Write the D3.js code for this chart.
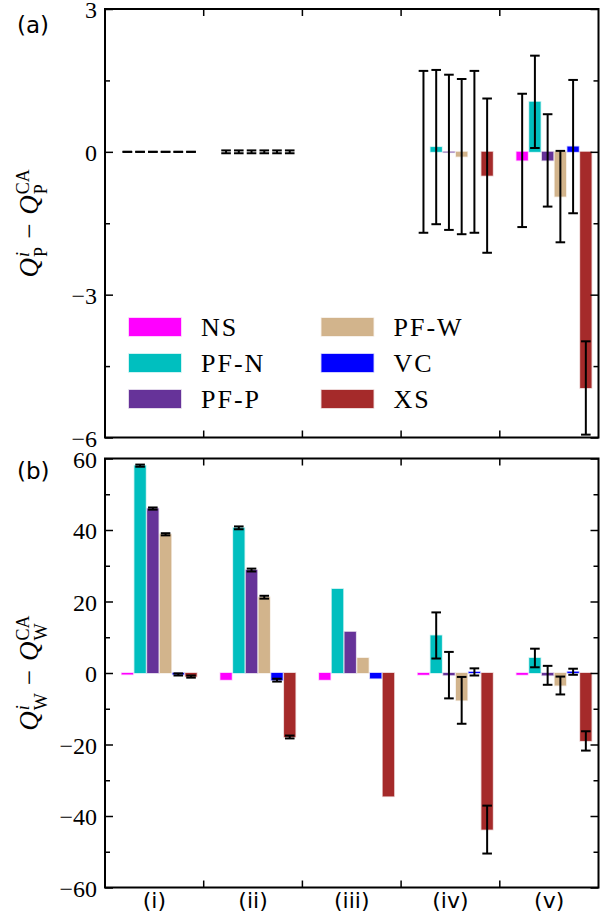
<!DOCTYPE html>
<html>
<head>
<meta charset="utf-8">
<script src="https://cdn.jsdelivr.net/npm/d3@7"></script>
<style>
  html, body { margin: 0; padding: 0; background: #fff; }
  svg { display: block; }
</style>
</head>
<body>
<svg id="chart" width="600" height="923"></svg>
<script>
// ---------------- DATA ----------------
const categories = ["(i)", "(ii)", "(iii)", "(iv)", "(v)"];
const series = ["NS", "PF-N", "PF-P", "PF-W", "VC", "XS"];
const seriesColors = ["#ff00ff", "#00bfbf", "#663399", "#d2b48c", "#0000ff", "#a52a2a"];

// Panel (a): rows = series, columns = categories
const qpValues = [
  [0, 0, 0, 0.00, -0.18],
  [0, 0, 0, 0.10, 1.05],
  [0, 0, 0, -0.01, -0.18],
  [0, 0, 0, -0.10, -0.94],
  [0, 0, 0, 0.00, 0.11],
  [0, 0, 0, -0.50, -4.96]
];
const qpErrors = [
  [0, 0.03, null, 1.70, 1.40],
  [0, 0.03, null, 1.62, 0.97],
  [0, 0.03, null, 1.63, 0.97],
  [0, 0.03, null, 1.63, 0.96],
  [0, 0.03, null, 1.70, 1.40],
  [0, 0.03, null, 1.62, 0.98]
];
const qpTicks = [3, 0, -3, -6];
const qpMinorTicks = [1.5, -1.5, -4.5];

// Panel (b)
const qwValues = [
  [-0.4, -1.9, -1.9, -0.5, -0.5],
  [58.0, 40.6, 23.5, 10.5, 4.2],
  [46.0, 28.8, 11.5, -0.6, -0.65],
  [38.8, 21.2, 4.2, -7.65, -3.5],
  [-0.4, -2.0, -1.5, 0.3, 0.35],
  [-1.0, -17.9, -34.5, -43.8, -19.0]
];
const qwErrors = [
  [null, null, null, null, null],
  [0.3, 0.4, null, 6.45, 2.6],
  [0.3, 0.4, null, 6.5, 2.65],
  [0.3, 0.4, null, 6.55, 2.5],
  [0.3, 0.4, null, 1.0, 0.85],
  [0.3, 0.4, null, 6.7, 2.7]
];
const qwTicks = [60, 40, 20, 0, -20, -40, -60];
const qwMinorTicks = [50, 30, 10, -10, -30, -50];

// ---------------- LAYOUT ----------------
const svg = d3.select("#chart");
const left = 105, right = 598.5;
const serifFont = "'Liberation Serif', 'Times New Roman', Times, serif";
const sansFont = "'DejaVu Sans', 'Noto Sans', sans-serif";

const x = d3.scaleBand().domain(categories).range([left, right]).padding(0);
const inner = d3.scaleBand().domain(series)
  .range([16.7, 91.7]).paddingInner(0.11).paddingOuter(0);

function drawPanel(cfg) {
  const { top, bottom, domain, values, errors, ticks, minor, tickFmt, panelLabel, labelBase, labelY } = cfg;
  const y = d3.scaleLinear().domain(domain).range([bottom, top]);
  const g = svg.append("g");

  // bars
  series.forEach((s, si) => {
    categories.forEach((c, ci) => {
      const v = values[si][ci];
      const x0 = x(c) + inner(s);
      const y0 = y(Math.max(0, v)), y1 = y(Math.min(0, v));
      g.append("rect")
        .attr("x", x0).attr("y", y0)
        .attr("width", inner.bandwidth())
        .attr("height", Math.max(0, y1 - y0))
        .attr("fill", seriesColors[si])
        .attr("stroke", seriesColors[si])
        .attr("stroke-opacity", 0.25)
        .attr("stroke-width", 1.5);
    });
  });

  // error bars
  series.forEach((s, si) => {
    categories.forEach((c, ci) => {
      const e = errors[si][ci];
      if (e === null || e === undefined) return;
      const v = values[si][ci];
      const cx = x(c) + inner(s) + inner.bandwidth() / 2;
      const yt = y(v + e), yb = y(v - e);
      const eg = g.append("g").attr("stroke", "#000").attr("stroke-width", 2).attr("fill", "none");
      eg.append("line").attr("x1", cx).attr("x2", cx).attr("y1", yt).attr("y2", yb);
      [yt, yb].forEach(yy => {
        eg.append("line").attr("x1", cx - 4.8).attr("x2", cx + 4.8).attr("y1", yy).attr("y2", yy);
      });
    });
  });

  // frame
  g.append("rect").attr("x", left).attr("y", top)
    .attr("width", right - left).attr("height", bottom - top)
    .attr("fill", "none").attr("stroke", "#000").attr("stroke-width", 2);

  // y axes (left with labels, right without)
  const yLeft = d3.axisLeft(y).tickValues(ticks).tickSize(-8).tickPadding(8).tickFormat(tickFmt);
  const ax = g.append("g").attr("transform", `translate(${left},0)`).call(yLeft);
  ax.attr("font-family", null).attr("font-size", null);
  ax.select(".domain").remove();
  ax.selectAll(".tick line").attr("stroke-width", 1.5);
  ax.selectAll(".tick text")
    .style("font-family", serifFont).style("font-size", "24px").attr("fill", "#000")
    .attr("dy", "0.36em");
  const axm = g.append("g").attr("transform", `translate(${left},0)`)
    .call(d3.axisLeft(y).tickValues(minor).tickSize(-5).tickFormat(""));
  axm.select(".domain").remove();
  axm.selectAll(".tick line").attr("stroke-width", 1.5);

  const axr = g.append("g").attr("transform", `translate(${right},0)`)
    .call(d3.axisRight(y).tickValues(ticks).tickSize(-8).tickFormat(""));
  axr.select(".domain").remove();
  axr.selectAll(".tick line").attr("stroke-width", 1.5);
  const axrm = g.append("g").attr("transform", `translate(${right},0)`)
    .call(d3.axisRight(y).tickValues(minor).tickSize(-5).tickFormat(""));
  axrm.select(".domain").remove();
  axrm.selectAll(".tick line").attr("stroke-width", 1.5);

  // category boundary ticks on top & bottom
  const bounds = categories.slice(1).map(c => x(c));
  bounds.forEach(bx => {
    g.append("line").attr("x1", bx).attr("x2", bx).attr("y1", top).attr("y2", top + 7)
      .attr("stroke", "#000").attr("stroke-width", 1.5);
    g.append("line").attr("x1", bx).attr("x2", bx).attr("y1", bottom).attr("y2", bottom - 7)
      .attr("stroke", "#000").attr("stroke-width", 1.5);
  });

  // panel label
  svg.append("text").attr("x", 17).attr("y", labelY)
    .style("font-family", sansFont).style("font-size", "23px").attr("fill", "#000")
    .text(panelLabel);

  // y-axis math label, rotated
  drawMathLabel(38, (top + bottom) / 2, labelBase);
  return y;
}

function drawMathLabel(bx, cy, sub) {
  const g = svg.append("g").attr("transform", `translate(${bx},${cy}) rotate(-90)`);
  const big = 27, small = 18;
  let cur = 0;
  function piece(txt, size, italic, dy) {
    const t = g.append("text").attr("x", cur).attr("y", dy)
      .style("font-family", serifFont).style("font-size", size + "px")
      .style("font-style", italic ? "italic" : "normal").attr("fill", "#000")
      .text(txt);
    return t;
  }
  function adv(t) { return t.node().getComputedTextLength(); }
  // Q^i_sub
  let t = piece("Q", big, true, 0); cur += adv(t) + 1;
  let a = piece("i", small, true, -9); let b = piece(sub, small, false, 9);
  cur += Math.max(adv(a), adv(b)) + 8;
  t = piece("\u2212", big, false, 0); cur += adv(t) + 9;
  t = piece("Q", big, true, 0); cur += adv(t) + 1;
  a = piece("CA", small, false, -9); b = piece(sub, small, false, 9);
  cur += Math.max(adv(a), adv(b));
  // center
  g.selectAll("text").each(function () {
    const s = d3.select(this);
    s.attr("x", +s.attr("x") - cur / 2);
  });
}

const fmtMinus = d => (d < 0 ? "\u2212" + Math.abs(d) : String(d));

drawPanel({
  top: 9, bottom: 437.5, domain: [-6, 3],
  values: qpValues, errors: qpErrors, ticks: qpTicks, minor: qpMinorTicks,
  tickFmt: fmtMinus, panelLabel: "(a)", labelBase: "P", labelY: 33
});

drawPanel({
  top: 458.5, bottom: 887.5, domain: [-60, 60],
  values: qwValues, errors: qwErrors, ticks: qwTicks, minor: qwMinorTicks,
  tickFmt: fmtMinus, panelLabel: "(b)", labelBase: "W", labelY: 479
});

// x category labels
svg.append("g").selectAll("text").data(categories).join("text")
  .attr("x", d => x(d) + x.bandwidth() / 2)
  .attr("y", 908)
  .attr("text-anchor", "middle")
  .style("font-family", sansFont).style("font-size", "22px").attr("fill", "#000")
  .text(d => d);

// legend
const lg = svg.append("g");
series.forEach((s, i) => {
  const col = Math.floor(i / 3), row = i % 3;
  const lx = 129 + col * 192.5, ly = 318 + row * 36;
  lg.append("rect").attr("x", lx).attr("y", ly).attr("width", 52).attr("height", 18)
    .attr("fill", seriesColors[i]).attr("stroke", seriesColors[i])
    .attr("stroke-opacity", 0.25).attr("stroke-width", 1.5);
  lg.append("text").attr("x", lx + 72).attr("y", ly + 17.5)
    .style("font-family", serifFont).style("font-size", "26px").style("letter-spacing", "2px")
    .attr("fill", "#000").text(s);
});
</script>
</body>
</html>
